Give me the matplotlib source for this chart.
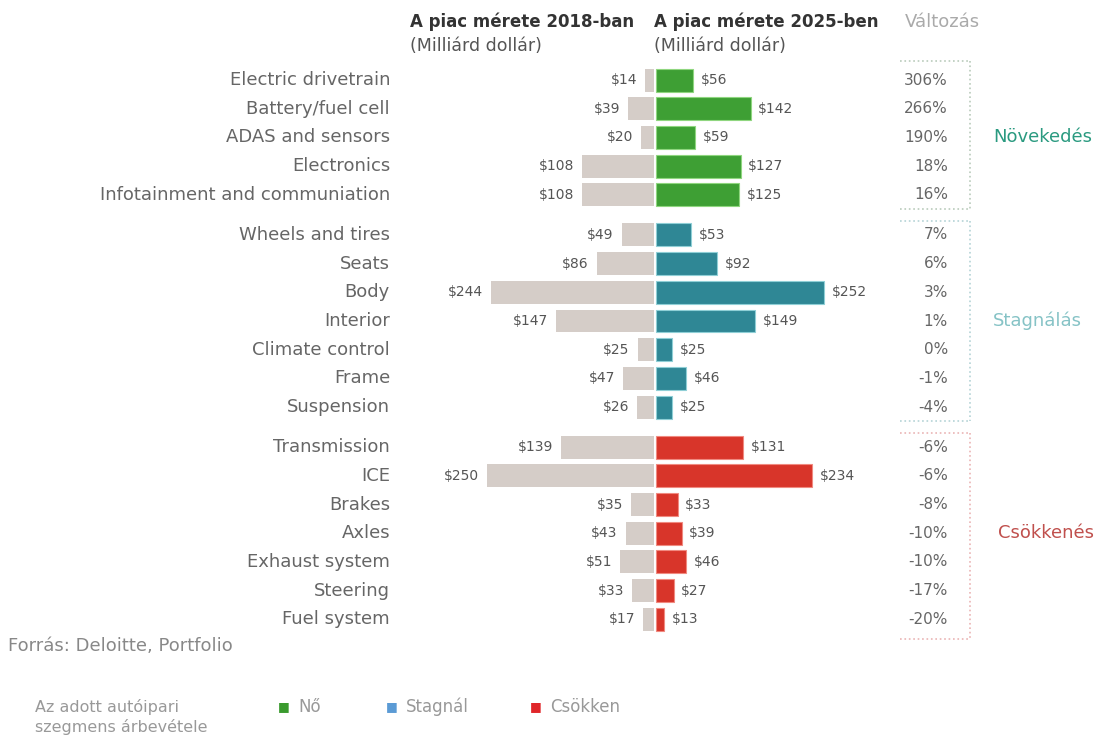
import matplotlib
matplotlib.use('Agg')
import matplotlib.pyplot as plt
import matplotlib.transforms as mtransforms
import numpy as np

plt.rcParams['font.family'] = ['DejaVu Sans']

# data
growth_names = ['Electric drivetrain', 'Battery/fuel cell', 'ADAS and sensors',
                'Electronics', 'Infotainment and communiation']
growth_2018 = [14, 39, 20, 108, 108]
growth_2025 = [56, 142, 59, 127, 125]
growth_chg = [306, 266, 190, 18, 16]

stag_names = ['Wheels and tires', 'Seats', 'Body', 'Interior',
              'Climate control', 'Frame', 'Suspension']
stag_2018 = [49, 86, 244, 147, 25, 47, 26]
stag_2025 = [53, 92, 252, 149, 25, 46, 25]
stag_chg = [7, 6, 3, 1, 0, -1, -4]

decl_names = ['Transmission', 'ICE', 'Brakes', 'Axles', 'Exhaust system',
              'Steering', 'Fuel system']
decl_2018 = [139, 250, 35, 43, 51, 33, 17]
decl_2025 = [131, 234, 33, 39, 46, 27, 13]
decl_chg = [-6, -6, -8, -10, -10, -17, -20]

groups = [
    ('Növekedés', growth_names, growth_2018, growth_2025, growth_chg),
    ('Stagnálás', stag_names, stag_2018, stag_2025, stag_chg),
    ('Csökkenés', decl_names, decl_2018, decl_2025, decl_chg),
]
bar_colors = ['#3e9f34', '#2f8795', '#d8352a']
edge_colors = ['#8fd67f', '#8fcfd6', '#f08a80']
box_colors = ['#b9cbbb', '#b4d3d6', '#eab4b4']
group_label_colors = ['#2a9a80', '#86c3c6', '#c0504d']
group_label_x = [993, 993, 998]
gray = '#d5cdc8'
txt = '#555555'

fig = plt.figure(figsize=(11.06, 7.37), dpi=100)
W, H = 1106, 737
ax = fig.add_axes([430 / W, 1 - 640 / H, 450 / W, 580 / H])
ax.set_xlim(-336, 336)
ax.set_ylim(19.51, -0.70)
ax.axis('off')

gap = 0.395
trans = mtransforms.blended_transform_factory(fig.transFigure, ax.transData)

pos = 0.0
for gi, (gname, names, v18, v25, chg) in enumerate(groups):
    ys = pos + np.arange(len(names))
    ax.barh(ys, [-v for v in v18], height=0.8, color=gray, left=-1, linewidth=0)
    ax.barh(ys, v25, height=0.8, color=bar_colors[gi], left=1,
            edgecolor=edge_colors[gi], linewidth=0.8)
    for y, name, a, b, c in zip(ys, names, v18, v25, chg):
        ax.text(-a - 13, y, '$' + str(a), ha='right', va='center',
                fontsize=10, color=txt)
        ax.text(b + 12, y, '$' + str(b), ha='left', va='center',
                fontsize=10, color=txt)
        ax.text(390 / W, y, name, transform=trans, ha='right', va='center',
                fontsize=13, color='#666666')
        ax.text(948 / W, y, str(c) + '%', transform=trans, ha='right',
                va='center', fontsize=11, color='#666666')
    # dotted box on the right
    top = ys[0] - (0.65 if gi == 0 else 0.5)
    bot = ys[-1] + (0.7 if gi == 2 else 0.5)
    for xs, yy in [([900, 970], [top, top]), ([900, 970], [bot, bot]),
                   ([970, 970], [top, bot])]:
        ax.plot([x / W for x in xs], yy, transform=trans, ls=':',
                color=box_colors[gi], lw=1.2, clip_on=False)
    mid = (ys[0] + ys[-1]) / 2
    ax.text(group_label_x[gi] / W, mid, gname, transform=trans, ha='left',
            va='center', fontsize=13, color=group_label_colors[gi])
    pos = ys[-1] + 1 + gap

# headers
fig.text(410 / W, 1 - 22 / H, 'A piac mérete 2018-ban', fontsize=12,
         fontweight='bold', color='#333333', va='center')
fig.text(410 / W, 1 - 46 / H, '(Milliárd dollár)', fontsize=12.5,
         color='#555555', va='center')
fig.text(654 / W, 1 - 22 / H, 'A piac mérete 2025-ben', fontsize=12,
         fontweight='bold', color='#333333', va='center')
fig.text(654 / W, 1 - 46 / H, '(Milliárd dollár)', fontsize=12.5,
         color='#555555', va='center')
fig.text(905 / W, 1 - 22 / H, 'Változás', fontsize=13,
         color='#aaaaaa', va='center')

# footer
fig.text(8 / W, 1 - 646 / H, 'Forrás: Deloitte, Portfolio', fontsize=13,
         color='#888888', va='center')
fig.text(35 / W, 1 - 717 / H, 'Az adott autóipari\nszegmens árbevétele',
         fontsize=11.5, color='#999999', va='center', linespacing=1.25)
legend_items = [('Nő', '#3a9a2e', 278), ('Stagnál', '#5b9bd5', 386),
                ('Csökken', '#e0262a', 530)]
for label, col, x in legend_items:
    fig.text(x / W, 1 - 707 / H, '■', fontsize=9, color=col, va='center')
    fig.text((x + 20) / W, 1 - 707 / H, label, fontsize=12,
             color='#999999', va='center')

fig.savefig('out.png', dpi=100, facecolor='white')
